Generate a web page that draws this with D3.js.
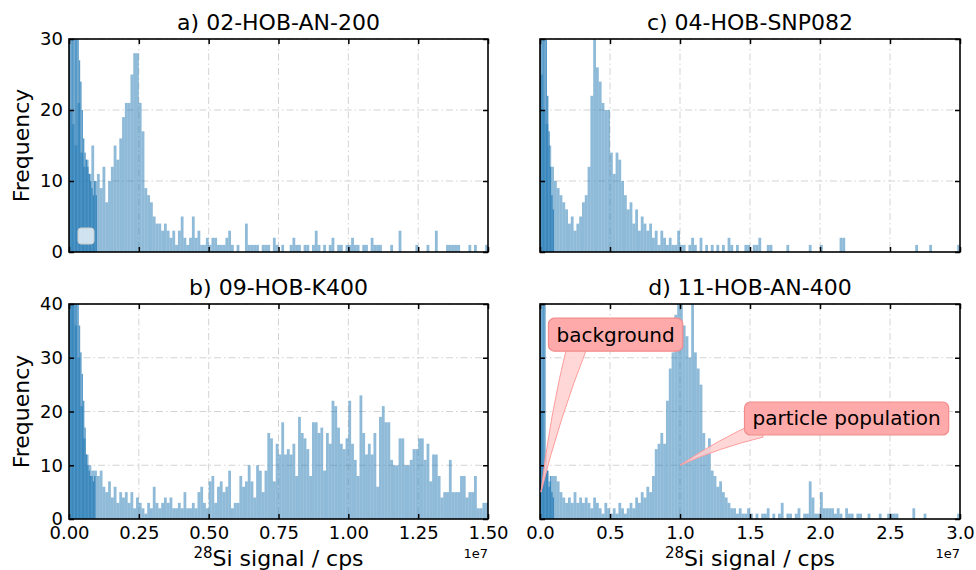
<!DOCTYPE html>
<html>
<head>
<meta charset="utf-8">
<script src="https://cdn.jsdelivr.net/npm/d3@7"></script>
<style>
body { margin: 0; background: #fff; }
text { font-family: "DejaVu Sans", sans-serif; }
</style>
</head>
<body>
<div id="chart"></div>
<script>
// tick values
var xTicksLeft = [0, 0.25e7, 0.5e7, 0.75e7, 1.0e7, 1.25e7, 1.5e7];
var xTicksRight = [0, 0.5e7, 1.0e7, 1.5e7, 2.0e7, 2.5e7, 3.0e7];
var yTicksTop = [0, 10, 20, 30];
var yTicksBottom = [0, 10, 20, 30, 40];

// a) 02-HOB-AN-200 : bins of 0.01e7 from 0
var binWA = 0.01e7;
var countsA = [
    20,18,15,21,14,12,13,11,15,10,
    11,9,12,7,10,12,15,13,16,19,
    21,21,25,28,28,21,17,9,8,7,
    5,4,4,3,4,3,2,3,1,3,
    5,2,1,2,5,2,3,1,1,2,
    1,2,2,1,1,1,2,3,1,0,
    1,0,0,4,1,1,1,1,0,1,
    1,1,0,2,1,0,1,0,0,1,
    2,1,1,0,1,1,0,1,3,1,
    0,1,0,1,2,0,1,1,0,1,
    1,2,1,1,0,1,1,0,2,1,
    1,1,0,0,0,1,0,0,3,0,
    0,0,0,0,1,0,0,0,1,0,
    0,3,0,0,0,1,1,1,1,1,
    0,0,0,1,0,1,0,0,0,1
];
var bgWA = 0.005e7;
var bgA = [70,60,55,50,45,40,30,27,24,20,16,14,13,12,11,10,9,8,10,8];

// b) 09-HOB-K400 : bins of 0.01e7 from 0
var binWB = 0.01e7;
var countsB = [
    40,40,36,30,21,15,12,10,9,9,
    8,9,6,5,7,4,6,3,5,4,
    5,3,5,2,4,3,2,1,3,2,
    6,3,2,3,4,3,4,2,2,3,
    2,5,2,2,3,2,5,6,3,2,
    7,8,3,6,7,5,6,9,2,3,
    3,8,6,7,10,7,4,10,9,5,
    9,16,15,7,14,12,18,12,13,12,
    14,8,19,16,15,13,8,18,18,16,
    17,9,16,14,22,21,17,14,13,15,
    22,14,11,8,23,16,12,14,12,16,
    6,19,21,18,18,11,10,10,15,15,
    10,10,11,13,13,15,15,11,14,7,
    12,12,8,4,5,5,11,5,5,5,
    8,8,4,5,5,8,2,2,3,3
];
var bgWB = 0.005e7;
var bgB = [90,80,70,60,55,50,45,36,31,27,22,17,12,10,9,8,8,7,8];

// c) 04-HOB-SNP082 : bins of 0.02e7 from 0
var binWC = 0.02e7;
var countsC = [
    25,20,18,15,12,10,9,8,7,6,
    4,5,3,4,5,7,8,12,22,30,
    26,24,21,20,20,14,11,14,13,10,
    8,6,7,4,6,3,5,4,3,4,
    2,3,1,3,2,1,2,1,1,3,
    1,1,0,1,2,1,0,2,0,1,
    0,1,0,1,0,1,0,2,1,0,
    1,0,0,1,1,0,1,1,2,0,
    0,1,1,0,0,0,0,0,1,0,
    0,0,0,0,0,0,1,0,0,0,
    1,0,0,0,0,0,0,2,2,0,
    0,0,0,0,0,0,0,0,0,0,
    0,0,0,0,0,0,0,0,0,0,
    0,0,0,0,1,0,0,0,0,1,
    0,0,0,0,0,0,0,0,0,1
];
var bgWC = 0.01e7;
var bgC = [80,70,60,45,30,22,17,12,8,6];

// d) 11-HOB-AN-400 : bins of 0.02e7 from 0
var binWD = 0.02e7;
var countsD = [
    20,10,9,7,8,8,7,5,4,3,
    4,3,5,3,4,3,4,3,2,4,
    3,2,1,3,2,1,2,1,3,2,
    1,2,3,2,4,3,5,4,6,5,
    8,13,14,16,14,22,28,31,38,45,
    42,36,34,30,45,31,28,25,16,13,
    15,9,8,6,7,5,4,3,2,2,
    1,2,1,1,2,1,0,1,0,1,
    1,2,0,1,0,1,3,0,1,1,
    0,1,2,0,1,1,7,4,1,1,
    5,2,2,2,2,1,2,1,0,2,
    1,1,0,1,1,0,0,1,0,0,
    0,1,0,0,1,1,1,1,0,0,
    0,0,0,2,0,0,0,1,0,0,
    0,0,0,0,0,0,0,0,0,1
];
var bgWD = 0.01e7;
var bgD = [80,70,60,40,12,9,6,8,5,4];

// annotations on panel d (data coordinates)
var annotations = [
    {text: "background", xy: [0.007e7, 5.0], xytext: [0.54e7, 34.3], tail: [-38, 10], bend: 5, width: 20},
    {text: "particle population", xy: [1.0e7, 10], xytext: [2.19e7, 18.7], tail: [-86, 11], bend: 4, width: 16}
];

var width = 976, height = 570;

var panels = [
    {title: "a) 02-HOB-AN-200", left: 69, top: 39, right: 488, bottom: 252, xMax: 1.5e7, yMax: 30,
     xTicks: xTicksLeft, fmt: d3.format(".2f"), yTicks: yTicksTop, xLabels: false, yLabels: true,
     counts: countsA, binW: binWA, bg: bgA, bgW: bgWA, legend: true},
    {title: "c) 04-HOB-SNP082", left: 540, top: 39, right: 960, bottom: 252, xMax: 3.0e7, yMax: 30,
     xTicks: xTicksRight, fmt: d3.format(".1f"), yTicks: yTicksTop, xLabels: false, yLabels: false,
     counts: countsC, binW: binWC, bg: bgC, bgW: bgWC},
    {title: "b) 09-HOB-K400", left: 69, top: 304, right: 488, bottom: 519, xMax: 1.5e7, yMax: 40,
     xTicks: xTicksLeft, fmt: d3.format(".2f"), yTicks: yTicksBottom, xLabels: true, yLabels: true,
     counts: countsB, binW: binWB, bg: bgB, bgW: bgWB},
    {title: "d) 11-HOB-AN-400", left: 540, top: 304, right: 960, bottom: 519, xMax: 3.0e7, yMax: 40,
     xTicks: xTicksRight, fmt: d3.format(".1f"), yTicks: yTicksBottom, xLabels: true, yLabels: false,
     counts: countsD, binW: binWD, bg: bgD, bgW: bgWD, notes: annotations}
];

var svg = d3.select("#chart")
    .append("svg")
    .attr("width", width)
    .attr("height", height);

function wedgePath(S, C, E, w) {
    var tx = C[0] - S[0], ty = C[1] - S[1], L = Math.hypot(tx, ty);
    var nx = -ty / L, ny = tx / L, h = w / 2;
    return "M" + (S[0] + nx * h) + "," + (S[1] + ny * h) +
        " Q" + (C[0] + nx * h / 2) + "," + (C[1] + ny * h / 2) + " " + E[0] + "," + E[1] +
        " Q" + (C[0] - nx * h / 2) + "," + (C[1] - ny * h / 2) + " " + (S[0] - nx * h) + "," + (S[1] - ny * h) + "Z";
}

panels.forEach(function(p, k) {
    var x = d3.scaleLinear().domain([0, p.xMax]).range([p.left, p.right]);
    var y = d3.scaleLinear().domain([0, p.yMax]).range([p.bottom, p.top]);
    var g = svg.append("g");

    g.append("clipPath").attr("id", "clip" + k)
        .append("rect")
        .attr("x", p.left).attr("y", p.top)
        .attr("width", p.right - p.left).attr("height", p.bottom - p.top);

    // grid
    var grid = g.append("g")
        .attr("stroke", "#d3d3d3")
        .attr("stroke-width", 1)
        .attr("stroke-dasharray", "7,3,1.5,3");
    grid.selectAll(".gx").data(p.xTicks.slice(1, -1)).enter().append("line")
        .attr("x1", d => x(d)).attr("x2", d => x(d))
        .attr("y1", p.top).attr("y2", p.bottom);
    grid.selectAll(".gy").data(p.yTicks.slice(1)).enter().append("line")
        .attr("x1", p.left).attr("x2", p.right)
        .attr("y1", d => y(d)).attr("y2", d => y(d));

    // histogram bars
    var bars = g.append("g").attr("clip-path", "url(#clip" + k + ")");
    bars.selectAll(".bar").data(p.counts).enter().append("rect")
        .attr("x", (d, i) => x(i * p.binW))
        .attr("width", (d, i) => x((i + 1) * p.binW) - x(i * p.binW))
        .attr("y", d => y(d))
        .attr("height", d => p.bottom - y(d))
        .attr("fill", "#1f77b4")
        .attr("fill-opacity", 0.5);
    bars.selectAll(".bg").data(p.bg).enter().append("rect")
        .attr("x", (d, i) => x(i * p.bgW))
        .attr("width", (d, i) => x((i + 1) * p.bgW) - x(i * p.bgW))
        .attr("y", d => y(d))
        .attr("height", d => p.bottom - y(d))
        .attr("fill", "#1f77b4")
        .attr("fill-opacity", 0.75);

    if (p.legend) {
        g.append("rect")
            .attr("x", p.left + 9).attr("y", p.bottom - 24)
            .attr("width", 16).attr("height", 16).attr("rx", 3)
            .attr("fill", "#fff").attr("fill-opacity", 0.75)
            .attr("stroke", "#cccccc").attr("stroke-width", 1);
    }

    // axes (inward ticks on all four sides)
    var xb = d3.axisBottom(x).tickValues(p.xTicks).tickSize(-5).tickPadding(7)
        .tickFormat(p.xLabels ? (d => p.fmt(d / 1e7)) : "");
    var xt = d3.axisTop(x).tickValues(p.xTicks).tickSize(-5).tickFormat("");
    var yl = d3.axisLeft(y).tickValues(p.yTicks).tickSize(-5).tickPadding(6)
        .tickFormat(p.yLabels ? d3.format("d") : "");
    var yr = d3.axisRight(y).tickValues(p.yTicks).tickSize(-5).tickFormat("");

    [[xb, `translate(0,${p.bottom})`], [xt, `translate(0,${p.top})`],
     [yl, `translate(${p.left},0)`], [yr, `translate(${p.right},0)`]].forEach(function(a) {
        var ax = g.append("g").attr("transform", a[1]).call(a[0]);
        ax.select(".domain").remove();
        ax.selectAll("line").attr("stroke", "#000").attr("stroke-width", 1.5);
        ax.selectAll("text").attr("fill", "#000")
            .style("font-family", "'DejaVu Sans', sans-serif").style("font-size", "18px");
    });

    g.append("rect")
        .attr("x", p.left).attr("y", p.top)
        .attr("width", p.right - p.left).attr("height", p.bottom - p.top)
        .attr("fill", "none").attr("stroke", "#000").attr("stroke-width", 1.6);

    // title
    g.append("text")
        .attr("x", (p.left + p.right) / 2).attr("y", p.top - 9)
        .attr("text-anchor", "middle").style("font-size", "22px")
        .text(p.title);

    if (p.yLabels) {
        g.append("text")
            .attr("transform", `translate(29,${(p.top + p.bottom) / 2}) rotate(-90)`)
            .attr("text-anchor", "middle").style("font-size", "22px")
            .text("Frequency");
    }

    if (p.xLabels) {
        var lab = g.append("text")
            .attr("x", (p.left + p.right) / 2).attr("y", p.bottom + 47)
            .attr("text-anchor", "middle").style("font-size", "22px");
        lab.append("tspan").attr("dy", "-8").style("font-size", "15px").text("28");
        lab.append("tspan").attr("dy", "8").text("Si signal / cps");

        g.append("text")
            .attr("x", p.right).attr("y", p.bottom + 39)
            .attr("text-anchor", "end").style("font-size", "13px")
            .text("1e7");
    }

    // annotations
    (p.notes || []).forEach(function(n) {
        var cx = x(n.xytext[0]), cy = y(n.xytext[1]);
        var E = [x(n.xy[0]), y(n.xy[1])];
        var S = [cx + n.tail[0], cy + n.tail[1]];
        var mx = (S[0] + E[0]) / 2, my = (S[1] + E[1]) / 2;
        var dx = E[0] - S[0], dy = E[1] - S[1], L = Math.hypot(dx, dy);
        var C = [mx - dy / L * n.bend, my + dx / L * n.bend];
        var ng = g.append("g");
        ng.append("path")
            .attr("d", wedgePath(S, C, E, n.width))
            .attr("fill", "#ffd0d0").attr("fill-opacity", 0.85)
            .attr("stroke", "#ff9c9c").attr("stroke-width", 1);
        var box = ng.append("rect");
        var t = ng.append("text")
            .attr("x", cx).attr("y", cy)
            .attr("dy", "0.35em")
            .attr("text-anchor", "middle").style("font-size", "20px")
            .text(n.text);
        var bb = t.node().getBBox();
        box.attr("x", bb.x - 8).attr("y", cy - 16.5)
            .attr("width", bb.width + 16).attr("height", 33).attr("rx", 6)
            .attr("fill", "#ffaaaa").attr("stroke", "#f28b8b").attr("stroke-width", 1.2);
    });
});
</script>
</body>
</html>
